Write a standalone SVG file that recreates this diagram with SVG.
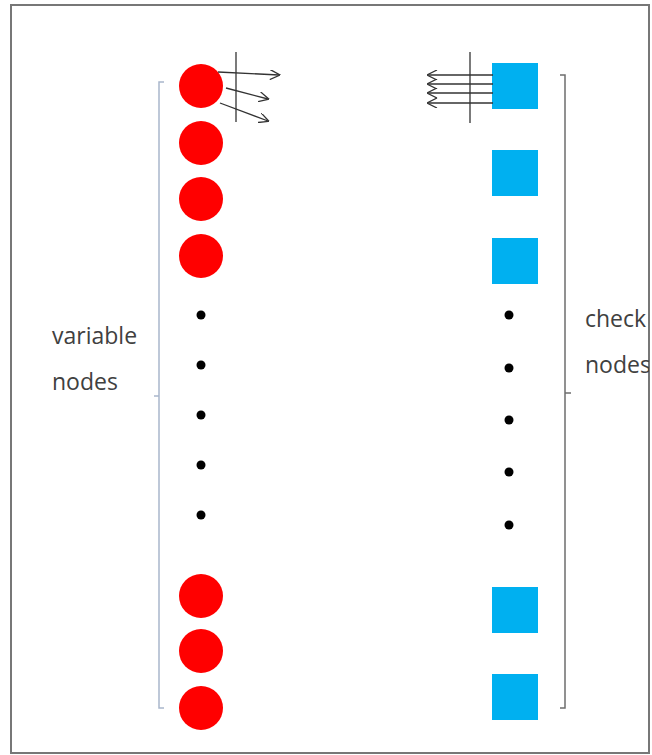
<svg xmlns="http://www.w3.org/2000/svg" width="652" height="755" viewBox="0 0 652 755">
<style>
.var{fill:#ff0000}
.chk{fill:#00b0f0}
.dot{fill:#000}
.lbl{font-family:"Open Sans","DejaVu Sans",sans-serif;font-size:23px;fill:#404040}
.ln{stroke:#333;stroke-width:1.3;fill:none}
.brL{stroke:#a9b7cc;stroke-width:1.5;fill:none}
.brR{stroke:#6e6e6e;stroke-width:1.5;fill:none}
</style>
<defs>
<marker id="ah" viewBox="0 0 10 10" refX="9" refY="5" markerWidth="11" markerHeight="10" markerUnits="userSpaceOnUse" orient="auto">
<path d="M0,0 L10,5 L0,10" fill="none" stroke="#333" stroke-width="1.3"/>
</marker>
<clipPath id="frame"><rect x="0" y="0" width="649" height="755"/></clipPath>
</defs>
<rect x="0" y="0" width="652" height="755" fill="#fff"/>
<rect x="11" y="5" width="638" height="748" fill="none" stroke="#777" stroke-width="2"/>
<g id="var1"><circle class="var" cx="201" cy="86" r="22"/></g>
<g id="var2"><circle class="var" cx="201" cy="143" r="22"/></g>
<g id="var3"><circle class="var" cx="201" cy="199" r="22"/></g>
<g id="var4"><circle class="var" cx="201" cy="256" r="22"/></g>
<g id="var5"><circle class="var" cx="201" cy="596" r="22"/></g>
<g id="var6"><circle class="var" cx="201" cy="651" r="22"/></g>
<g id="var7"><circle class="var" cx="201" cy="708" r="22"/></g>
<g id="vdots">
<circle class="dot" cx="201" cy="315" r="4.5"/>
<circle class="dot" cx="201" cy="365" r="4.5"/>
<circle class="dot" cx="201" cy="415" r="4.5"/>
<circle class="dot" cx="201" cy="465" r="4.5"/>
<circle class="dot" cx="201" cy="515" r="4.5"/>
</g>
<g id="chk1"><rect class="chk" x="492" y="63" width="46" height="46"/></g>
<g id="chk2"><rect class="chk" x="492" y="150" width="46" height="46"/></g>
<g id="chk3"><rect class="chk" x="492" y="238" width="46" height="46"/></g>
<g id="chk4"><rect class="chk" x="492" y="587" width="46" height="46"/></g>
<g id="chk5"><rect class="chk" x="492" y="674" width="46" height="46"/></g>
<g id="cdots">
<circle class="dot" cx="509" cy="315" r="4.5"/>
<circle class="dot" cx="509" cy="368" r="4.5"/>
<circle class="dot" cx="509" cy="420" r="4.5"/>
<circle class="dot" cx="509" cy="472" r="4.5"/>
<circle class="dot" cx="509" cy="525" r="4.5"/>
</g>
<g id="varLabel">
<path class="brL" d="M164,82 L159,82 L159,708 L164,708 M159,396 L154,396"/>
<text class="lbl" x="52" y="344">variable</text>
<text class="lbl" x="52" y="390">nodes</text>
</g>
<g id="chkLabel">
<path class="brR" d="M560,75 L565,75 L565,708 L560,708 M565,393 L571,393"/>
<g clip-path="url(#frame)">
<text class="lbl" x="585" y="327">check</text>
<text class="lbl" x="585" y="373">nodes</text>
</g>
</g>
<g id="connectors">
<line class="ln" x1="236" y1="52" x2="236" y2="122"/>
<line class="ln" x1="218" y1="72" x2="279" y2="75" marker-end="url(#ah)"/>
<line class="ln" x1="226" y1="88" x2="268" y2="99" marker-end="url(#ah)"/>
<line class="ln" x1="220" y1="103" x2="268" y2="121" marker-end="url(#ah)"/>
<line class="ln" x1="470" y1="52" x2="470" y2="123"/>
<line class="ln" x1="493" y1="75" x2="428" y2="75" marker-end="url(#ah)"/>
<line class="ln" x1="493" y1="84" x2="428" y2="84" marker-end="url(#ah)"/>
<line class="ln" x1="493" y1="93" x2="428" y2="93" marker-end="url(#ah)"/>
<line class="ln" x1="493" y1="103" x2="428" y2="103" marker-end="url(#ah)"/>
</g>
</svg>
